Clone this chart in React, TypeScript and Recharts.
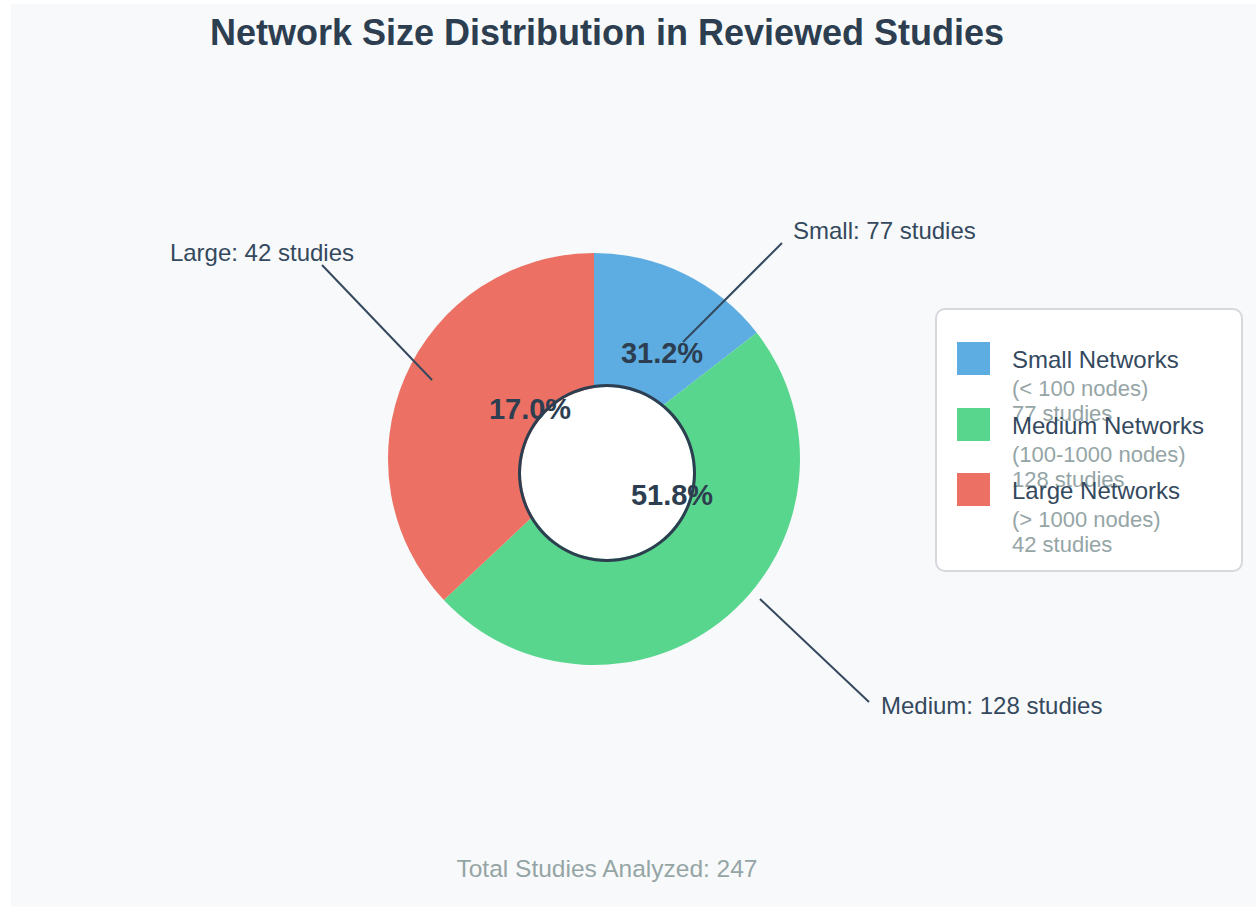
import { PieChart, Pie, Cell, Legend } from "recharts";

const categories = ["Small", "Medium", "Large"];
const legendNames = ["Small Networks", "Medium Networks", "Large Networks"];
const nodeRanges = ["(< 100 nodes)", "(100-1000 nodes)", "(> 1000 nodes)"];
const studyCounts = [77, 128, 42];
// how much of the circle each wedge takes in the drawing
const arcShare = [14.5, 48.5, 37];
const colors = ["#5dade2", "#58d68d", "#ec7063"];

const totalStudies = studyCounts.reduce((a, b) => a + b, 0);

const pieData = categories.map((name, i) => ({
  name,
  arc: arcShare[i],
  studies: studyCounts[i],
}));

const holeData = [{ name: "hole", v: 1 }];

const FONT = "'Liberation Sans', Arial, Helvetica, sans-serif";
const DARK = "#2c3e50";
const SLATE = "#34495e";
const GREY = "#95a5a6";

// label placement, offsets from the pie centre
const pctOffsets = [
  [68, -105],
  [78, 37],
  [-64, -49],
];
const callouts = [
  { from: [89, -116], to: [188, -215], text: [199, -228], anchor: "start" },
  { from: [166, 141], to: [275, 244], text: [287, 247], anchor: "start" },
  { from: [-162, -78], to: [-272, -193], text: [-240, -206], anchor: "end" },
];

function renderLabel(props: any) {
  const { cx, cy, index } = props;
  const c = callouts[index];
  const p = pctOffsets[index];
  const pct = ((studyCounts[index] / totalStudies) * 100).toFixed(1) + "%";
  return (
    <g key={`label-${index}`}>
      <line
        x1={cx + c.from[0]}
        y1={cy + c.from[1]}
        x2={cx + c.to[0]}
        y2={cy + c.to[1]}
        stroke={SLATE}
        strokeWidth={2}
      />
      <text
        x={cx + c.text[0]}
        y={cy + c.text[1]}
        textAnchor={c.anchor as any}
        dominantBaseline="central"
        fontSize={24}
        fontFamily={FONT}
        fill={SLATE}
      >
        {`${categories[index]}: ${studyCounts[index]} studies`}
      </text>
      <text
        x={cx + p[0]}
        y={cy + p[1]}
        textAnchor="middle"
        dominantBaseline="central"
        fontSize={29}
        fontWeight="bold"
        fontFamily={FONT}
        fill={DARK}
      >
        {pct}
      </text>
    </g>
  );
}

function SizeLegend() {
  return (
    <div
      style={{
        position: "relative",
        width: 304,
        height: 260,
        background: "#fff",
        border: "2px solid #d5d8dc",
        borderRadius: 10,
        fontFamily: FONT,
      }}
    >
      {legendNames.map((name, i) => (
        <div
          key={name}
          style={{ position: "absolute", left: 20, top: 32 + i * 65.5, width: 280 }}
        >
          <div
            style={{
              position: "absolute",
              left: 0,
              top: 0,
              width: 33,
              height: 33,
              background: colors[i],
            }}
          />
          <div
            style={{
              position: "absolute",
              left: 55,
              top: 6,
              fontSize: 24,
              lineHeight: "24px",
              color: SLATE,
              whiteSpace: "nowrap",
            }}
          >
            {name}
          </div>
          <div
            style={{
              position: "absolute",
              left: 55,
              top: 36,
              fontSize: 22,
              lineHeight: "22px",
              color: GREY,
              whiteSpace: "nowrap",
            }}
          >
            {nodeRanges[i]}
          </div>
          <div
            style={{
              position: "absolute",
              left: 55,
              top: 61,
              fontSize: 22,
              lineHeight: "22px",
              color: GREY,
              whiteSpace: "nowrap",
            }}
          >
            {`${studyCounts[i]} studies`}
          </div>
        </div>
      ))}
    </div>
  );
}

export default function App() {
  return (
    <div
      style={{
        position: "absolute",
        left: 11,
        top: 4,
        width: 1245,
        height: 903,
        background: "#f8f9fa",
        fontFamily: FONT,
      }}
    >
      <div
        style={{
          position: "absolute",
          left: 0,
          top: 11,
          width: 1192,
          textAlign: "center",
          fontSize: 36,
          lineHeight: "36px",
          fontWeight: "bold",
          color: DARK,
        }}
      >
        Network Size Distribution in Reviewed Studies
      </div>

      <PieChart
        width={1245}
        height={903}
        margin={{ top: 0, right: 0, bottom: 0, left: 0 }}
      >
        <Pie
          data={pieData}
          dataKey="arc"
          nameKey="name"
          cx={583}
          cy={455}
          outerRadius={206}
          startAngle={90}
          endAngle={-270}
          stroke="none"
          isAnimationActive={false}
        >
          {pieData.map((d, i) => (
            <Cell key={d.name} fill={colors[i]} />
          ))}
        </Pie>
        <Pie
          data={holeData}
          dataKey="v"
          cx={596}
          cy={469}
          outerRadius={86}
          fill="#ffffff"
          stroke="none"
          legendType="none"
          isAnimationActive={false}
        />
        <Pie
          data={holeData}
          dataKey="v"
          cx={596}
          cy={469}
          innerRadius={86}
          outerRadius={89}
          fill={DARK}
          stroke="none"
          legendType="none"
          isAnimationActive={false}
        />
        <Pie
          data={pieData}
          dataKey="arc"
          nameKey="name"
          cx={583}
          cy={454}
          outerRadius={206}
          startAngle={90}
          endAngle={-270}
          fill="transparent"
          stroke="none"
          legendType="none"
          label={renderLabel}
          labelLine={false}
          isAnimationActive={false}
        />
        <Legend
          content={() => <SizeLegend />}
          wrapperStyle={{ left: 924, top: 304, width: 308, height: 264 }}
        />
      </PieChart>

      <div
        style={{
          position: "absolute",
          left: 0,
          top: 853,
          width: 1192,
          textAlign: "center",
          fontSize: 24.5,
          lineHeight: "24px",
          color: GREY,
        }}
      >
        {`Total Studies Analyzed: ${totalStudies}`}
      </div>
    </div>
  );
}
